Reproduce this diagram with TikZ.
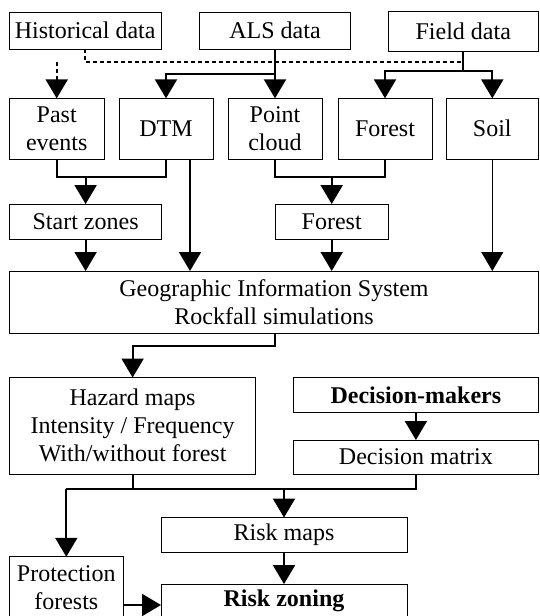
\documentclass[tikz,border=0pt]{standalone}
\usepackage{fontspec}
\setmainfont{Liberation Serif}
\usepackage{tikz}
\usetikzlibrary{arrows.meta}

\begin{document}
\begin{tikzpicture}[x=1pt,y=-1pt,
    box/.style={draw,line width=0.9pt,inner sep=0pt,outer sep=0pt,align=center,
        font=\fontsize{24}{28}\selectfont},
    conn/.style={line width=2pt},
    arr/.style={conn,-{Triangle[length=19pt,width=22pt]}},
    histline/.style={line width=2pt,dash pattern=on 4pt off 3pt}]

        \useasboundingbox (0,0) rectangle (539,616);
        \clip (0,0) rectangle (539,616);

        % data sources
        \node[box,minimum width=151.7pt,minimum height=37.3pt] (hd) at (85.2,30.6) {Historical data};
        \node[box,minimum width=151pt,minimum height=37.3pt] (als) at (275,30.6) {ALS data};
        \node[box,minimum width=150.5pt,minimum height=39.3pt] (fd) at (463.3,31.4) {Field data};

        \node[box,minimum width=94.7pt,minimum height=60.7pt] (pe) at (56.7,128.7) {Past\\events};
        \node[box,minimum width=94pt,minimum height=60.7pt] (dtm) at (166,128.7) {DTM};
        \node[box,minimum width=94pt,minimum height=60.7pt] (pc) at (275,128.7) {Point\\cloud};
        \node[box,minimum width=94pt,minimum height=60.7pt] (fo) at (385,128.7) {Forest};
        \node[box,minimum width=92.5pt,minimum height=60.7pt] (soil) at (492.3,128.7) {Soil};

        \node[box,minimum width=152pt,minimum height=35.3pt] (sz) at (85.6,221.7) {Start zones};
        \node[box,minimum width=113.3pt,minimum height=35.3pt] (fo2) at (331.7,221.7) {Forest};

        \node[box,minimum width=529pt,minimum height=62pt] (gis) at (274,302) {Geographic Information System\\Rockfall simulations};

        % outputs
        \node[box,minimum width=246pt,minimum height=96.5pt] (hz) at (132.6,425.8) {Hazard maps\\Intensity / Frequency\\With/without forest};
        \node[box,minimum width=245.2pt,minimum height=34.5pt] (dm) at (415.9,394.8) {\textbf{Decision-makers}};
        \node[box,minimum width=245.2pt,minimum height=34pt] (dmx) at (415.9,457) {Decision matrix};
        \node[box,minimum width=246pt,minimum height=34.5pt] (rm) at (284,534.8) {Risk maps};
        \node[box,minimum width=246pt,minimum height=34.5pt] (rz) at (284,601.3) {\textbf{Risk zoning}};
        \node[box,minimum width=113.4pt,minimum height=61.5pt] (pf) at (66.3,587.5) {Protection\\forests};

        \coordinate (dj) at (56.7,62);
        \coordinate (aj) at (275,74);
        \coordinate (fj) at (463.3,71);
        \coordinate (sj) at (85.6,177);
        \coordinate (pj) at (331.7,177);
        \coordinate (bj) at (66.3,489);

        % historical links
        \draw[histline] (hd.south) |- (fd.south |- dj);
        \draw[histline] (dj) -- ([yshift=21pt]pe.north);
        \draw[arr] ([yshift=21pt]pe.north) -- (pe.north);

        \draw[arr] (als.south) -- (pc.north);
        \draw[arr] (aj) -| (dtm.north);
        \draw[conn] (fd.south) -- (fj);
        \draw[arr] (fj) -| (fo.north);
        \draw[arr] (fj) -| (soil.north);

        \draw[conn] (pe.south) |- (sj) -| (dtm.south);
        \draw[arr] (sj) -- (sz.north);
        \draw[conn] (pc.south) |- (pj) -| (fo.south);
        \draw[arr] (pj) -- (fo2.north);

        \draw[arr] (sz.south) -- (sz.south |- gis.north);
        \draw[arr] ([xshift=24pt]dtm.south) -- ([xshift=24pt]dtm.south |- gis.north);
        \draw[arr] (fo2.south) -- (fo2.south |- gis.north);
        \draw[arr,line width=1pt] (soil.south) -- (soil.south |- gis.north);

        \draw[arr] ([xshift=1pt]gis.south) -- ++(0,13) -| (hz.north);
        \draw[arr] (dm.south) -- (dmx.north);

        \draw[conn] (hz.south) -- (hz.south |- bj);
        \draw[conn] (dmx.south) |- (bj);
        \draw[arr] (bj) -- (pf.north);
        \draw[arr] (rm.north |- bj) -- (rm.north);
        \draw[arr] (rm.south) -- (rz.north);
        \draw[arr] ([yshift=-17.5pt]pf.east) -- ([yshift=-17.5pt]pf.east -| rz.west);

    \end{tikzpicture}
\end{document}
